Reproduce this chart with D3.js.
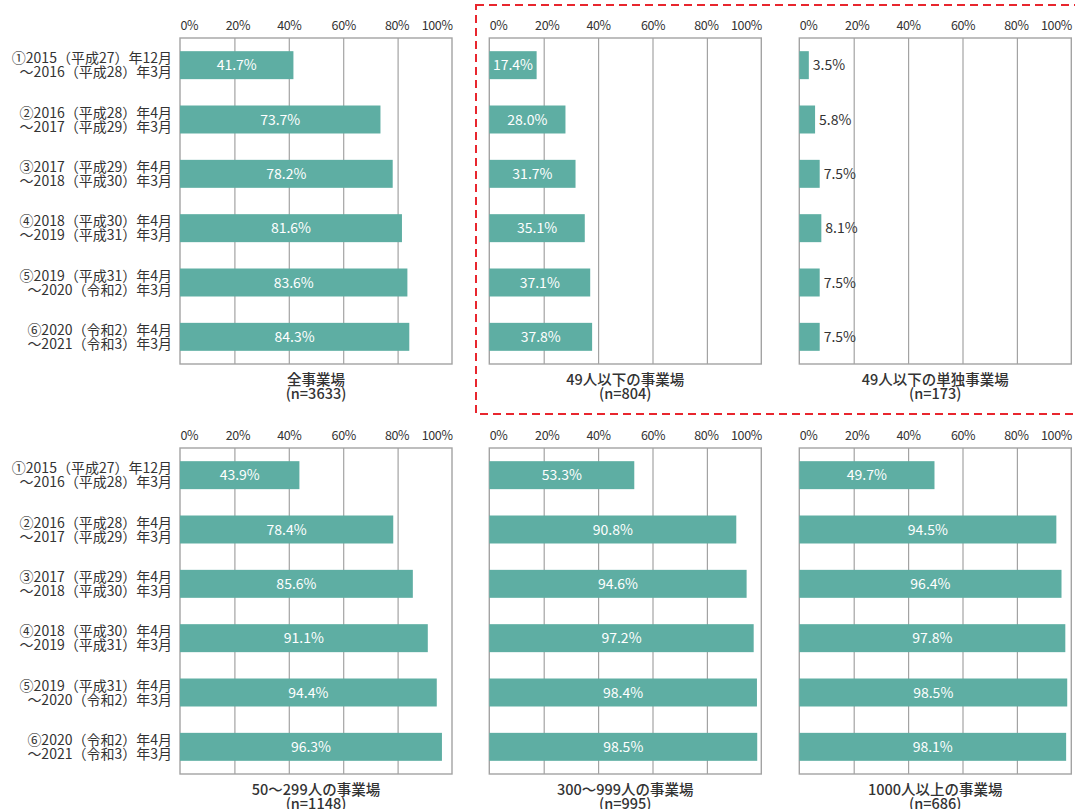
<!DOCTYPE html>
<html>
<head>
<meta charset="utf-8">
<script src="https://cdn.jsdelivr.net/npm/d3@7"></script>
<style>
  body { margin: 0; background: #fff; }
  svg { display: block; font-family: "Noto Sans CJK JP", "Noto Sans", sans-serif; }
</style>
</head>
<body>
<div id="chart"></div>
<script>
/* Chart size. */
const width = 1075
const height = 809

/* Data. */
const periodLine1 = [
  "①2015（平成27）年12月",
  "②2016（平成28）年4月",
  "③2017（平成29）年4月",
  "④2018（平成30）年4月",
  "⑤2019（平成31）年4月",
  "⑥2020（令和2）年4月"
]
const periodLine2 = [
  "～2016（平成28）年3月",
  "～2017（平成29）年3月",
  "～2018（平成30）年3月",
  "～2019（平成31）年3月",
  "～2020（令和2）年3月",
  "～2021（令和3）年3月"
]
const groupNames = ["全事業場", "49人以下の事業場", "49人以下の単独事業場", "50～299人の事業場", "300～999人の事業場", "1000人以上の事業場"]
const groupN = ["(n=3633)", "(n=804)", "(n=173)", "(n=1148)", "(n=995)", "(n=686)"]
const allSites = [41.7, 73.7, 78.2, 81.6, 83.6, 84.3]
const upTo49 = [17.4, 28.0, 31.7, 35.1, 37.1, 37.8]
const upTo49Single = [3.5, 5.8, 7.5, 8.1, 7.5, 7.5]
const from50to299 = [43.9, 78.4, 85.6, 91.1, 94.4, 96.3]
const from300to999 = [53.3, 90.8, 94.6, 97.2, 98.4, 98.5]
const over1000 = [49.7, 94.5, 96.4, 97.8, 98.5, 98.1]
const seriesList = [allSites, upTo49, upTo49Single, from50to299, from300to999, over1000]
const tickValues = [0, 20, 40, 60, 80, 100]

/* Layout. */
const panelW = 272
const panelH = 326
const colX = [180, 489.3, 799.3]
const rowY = [38, 448]
const barColor = "#5eaea3"
const gridColor = "#a3a3a3"
const textColor = "#333"

/* Create svg-element. */
const svg = d3.select("#chart")
  .append("svg")
  .attr("width", width)
  .attr("height", height)

/* Scales. */
const x = d3.scaleLinear().domain([0, 100]).range([0, panelW])
const y = d3.scaleBand()
  .domain(d3.range(periodLine1.length))
  .range([0, panelH])
  .paddingInner(0.485)
  .paddingOuter(0.2425)

/* Red dashed box round the small-site panels. */
svg.append("rect")
  .attr("x", 476)
  .attr("y", 5)
  .attr("width", 640)
  .attr("height", 409)
  .attr("fill", "none")
  .attr("stroke", "#e8262e")
  .attr("stroke-width", 2)
  .attr("stroke-dasharray", "8,5")

/* Draw one panel. */
const drawPanel = (i) => {
  const col = i % 3
  const row = Math.floor(i / 3)
  const values = seriesList[i]
  const g = svg.append("g")
    .attr("transform", `translate(${colX[col]},${rowY[row]})`)

  /* Grid lines. */
  g.append("g")
    .call(d3.axisBottom(x).tickValues([20, 40, 60, 80]).tickSize(panelH).tickFormat(""))
    .call(a => a.select(".domain").remove())
    .call(a => a.selectAll("line").attr("stroke", gridColor).attr("stroke-width", 1.2))

  /* Frame. */
  g.append("rect")
    .attr("width", panelW)
    .attr("height", panelH)
    .attr("fill", "none")
    .attr("stroke", gridColor)
    .attr("stroke-width", 1.4)

  /* Tick labels. */
  g.append("g")
    .call(d3.axisTop(x).tickValues(tickValues).tickSize(0).tickPadding(8).tickFormat(d => d + "%"))
    .call(a => a.select(".domain").remove())
    .call(a => a.selectAll("text")
      .attr("font-size", 12.5)
      .attr("fill", textColor)
      .attr("font-family", "Noto Sans CJK JP")
      .attr("letter-spacing", -0.4)
      .attr("text-anchor", d => d === 0 ? "start" : d === 100 ? "end" : "middle")
      .attr("dx", d => d === 20 ? 3 : d === 80 ? -1 : 0))

  /* Bars. */
  g.selectAll(".bar")
    .data(values)
    .enter()
    .append("rect")
    .attr("class", "bar")
    .attr("x", 0)
    .attr("y", (d, j) => y(j))
    .attr("width", d => x(d))
    .attr("height", y.bandwidth())
    .attr("fill", barColor)

  /* Value labels: inside when the bar is long enough, else after it. */
  g.selectAll(".val")
    .data(values)
    .enter()
    .append("text")
    .attr("class", "val")
    .attr("x", d => d >= 12 ? x(d) / 2 : x(d) + 4)
    .attr("y", (d, j) => y(j) + y.bandwidth() / 2)
    .attr("dy", "0.36em")
    .attr("text-anchor", d => d >= 12 ? "middle" : "start")
    .attr("font-size", 14)
    .attr("fill", d => d >= 12 ? "#fff" : textColor)
    .text(d => d.toFixed(1) + "%")

  /* Panel title, two lines. */
  g.append("text")
    .attr("x", panelW / 2)
    .attr("y", panelH + 21)
    .attr("text-anchor", "middle")
    .attr("font-size", 14.5)
    .attr("font-weight", 500)
    .attr("fill", textColor)
    .text(groupNames[i])
  g.append("text")
    .attr("x", panelW / 2)
    .attr("y", panelH + 35)
    .attr("text-anchor", "middle")
    .attr("font-size", 14.5)
    .attr("font-weight", 500)
    .attr("fill", textColor)
    .text(groupN[i])

  /* Period labels on the first column only. */
  if (col === 0) {
    g.selectAll(".period1")
      .data(periodLine1)
      .enter()
      .append("text")
      .attr("class", "period1")
      .attr("text-anchor", "end")
      .attr("font-size", 14)
      .attr("fill", textColor)
      .attr("x", -8)
      .attr("y", (d, j) => y(j) + y.bandwidth() / 2 - 2)
      .text(d => d)
    g.selectAll(".period2")
      .data(periodLine2)
      .enter()
      .append("text")
      .attr("class", "period2")
      .attr("text-anchor", "end")
      .attr("font-size", 14)
      .attr("fill", textColor)
      .attr("x", -8)
      .attr("y", (d, j) => y(j) + y.bandwidth() / 2 + 12)
      .text(d => d)
  }
}

/* Draw all six panels. */
seriesList.forEach((s, i) => drawPanel(i))
</script>
</body>
</html>
